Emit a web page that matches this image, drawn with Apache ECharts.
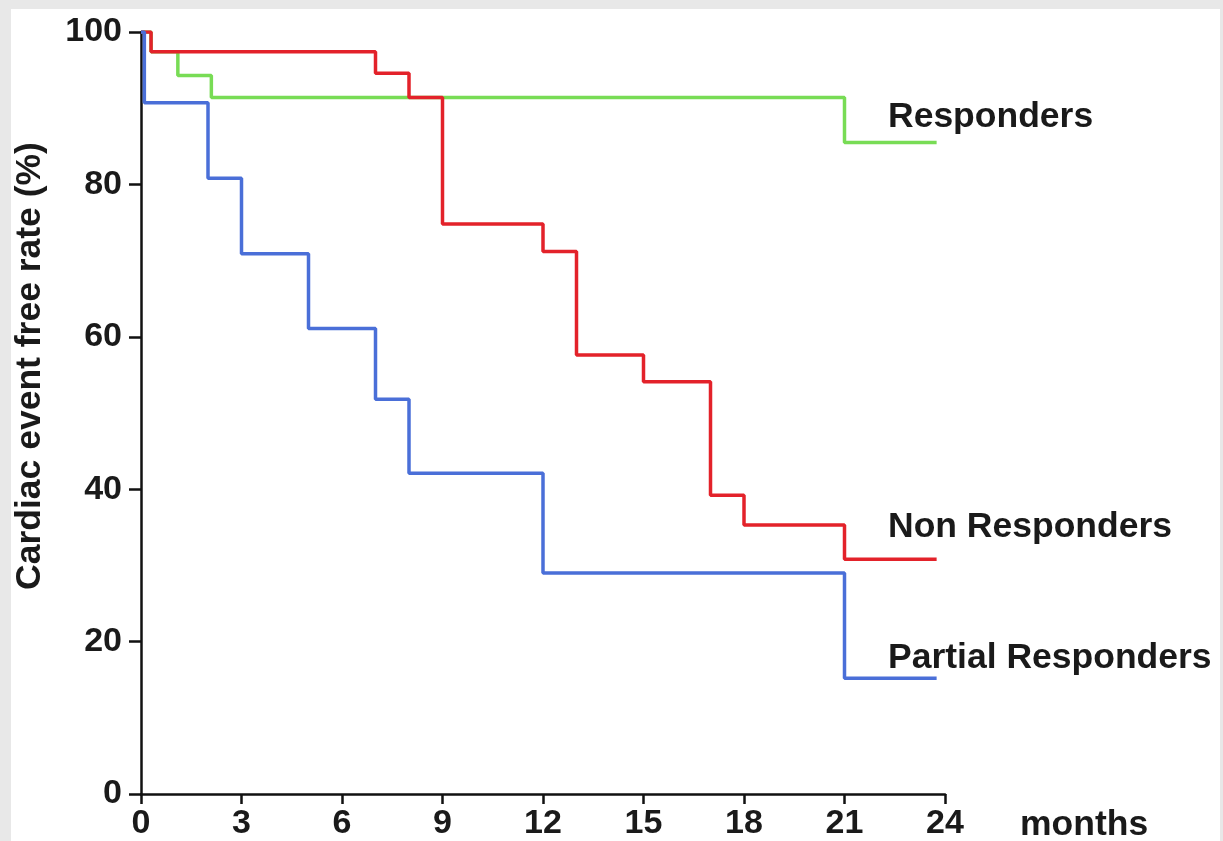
<!DOCTYPE html>
<html>
<head>
<meta charset="utf-8">
<script src="https://cdn.jsdelivr.net/npm/echarts@6/dist/echarts.min.js"></script>
<style>
  html, body { margin: 0; padding: 0; background: #e8e8e8; }
  #panel { position: absolute; left: 11px; top: 9px; width: 1209px; height: 832px; background: #ffffff; }
  #chart { position: absolute; left: 0; top: 0; width: 1223px; height: 841px; }
</style>
</head>
<body>
<div id="panel"></div>
<div id="chart"></div>
<script>
// ---- data ----
const xTicks = [0, 3, 6, 9, 12, 15, 18, 21, 24];
const yTicks = [0, 20, 40, 60, 80, 100];

const respondersTimes  = [0, 0.3, 1.1, 2.1, 21, 23.75];
const respondersValues = [100, 97.4, 94.3, 91.4, 85.5, 85.5];

const nonTimes  = [0, 0.3, 7, 8, 9, 12, 13, 15, 17, 18, 21, 23.75];
const nonValues = [100, 97.4, 94.6, 91.4, 74.8, 71.2, 57.6, 54.1, 39.2, 35.3, 30.8, 30.8];

const partialTimes  = [0, 0.1, 2, 3, 5, 7, 8, 12, 21, 23.75];
const partialValues = [100, 90.7, 80.8, 70.9, 61.1, 51.8, 42.1, 29.0, 15.2, 15.2];

const seriesNames = ['Responders', 'Non Responders', 'Partial Responders'];
const xName = 'months';
const yName = 'Cardiac event free rate (%)';

// ---- build ----
const zip = (t, v) => t.map((x, i) => [x, v[i]]);
const FONT = '"Liberation Sans", Arial, Helvetica, sans-serif';
const LABEL_FONT = 'bold 35.5px ' + FONT;
const chart = echarts.init(document.getElementById('chart'), null, { renderer: 'canvas' });

const mkSeries = (name, data, color) => ({
  name, type: 'line', step: 'end', data, symbol: 'none',
  lineStyle: { color, width: 3.5 }, itemStyle: { color },
  animation: false, z: 3
});

const txt = (text, x, y, extra) => Object.assign({
  type: 'text', x, y,
  style: { text, font: LABEL_FONT, fill: '#1a1a1a', textAlign: 'left', align: 'left',
           textVerticalAlign: 'middle', verticalAlign: 'middle' }
}, extra || {});

const option = {
  backgroundColor: 'transparent',
  animation: false,
  grid: { left: 141, right: 278, top: 32, bottom: 44, containLabel: false },
  xAxis: {
    type: 'value', min: 0, max: 24, interval: 3,
    axisLine: { show: true, lineStyle: { color: '#111', width: 2.5 } },
    axisTick: { show: true, length: 10, lineStyle: { color: '#111', width: 2.5 } },
    splitLine: { show: false },
    axisLabel: { color: '#1a1a1a', fontSize: 34, fontWeight: 'bold', fontFamily: FONT, margin: 13,
      formatter: v => xTicks.includes(v) ? String(v) : '' }
  },
  yAxis: {
    type: 'value', min: 0, max: 100, interval: 20,
    axisLine: { show: true, lineStyle: { color: '#111', width: 2.5 } },
    axisTick: { show: true, length: 12, lineStyle: { color: '#111', width: 2.5 } },
    splitLine: { show: false },
    axisLabel: { color: '#1a1a1a', fontSize: 34, fontWeight: 'bold', fontFamily: FONT, margin: 19,
      formatter: v => yTicks.includes(v) ? String(v) : '' }
  },
  series: [
    mkSeries(seriesNames[0], zip(respondersTimes, respondersValues), '#78dc55'),
    mkSeries(seriesNames[1], zip(nonTimes, nonValues), '#e3222a'),
    mkSeries(seriesNames[2], zip(partialTimes, partialValues), '#4a6fd8')
  ],
  graphic: [
    txt(seriesNames[0], 888, 117),
    txt(seriesNames[1], 888, 527),
    txt(seriesNames[2], 888, 658),
    txt(xName, 1020, 825),
    { type: 'text', x: 30, y: 366, rotation: Math.PI / 2,
      style: { text: yName, font: LABEL_FONT, fill: '#1a1a1a', textAlign: 'center', align: 'center',
               textVerticalAlign: 'middle', verticalAlign: 'middle' } }
  ]
};
chart.setOption(option);
</script>
</body>
</html>
